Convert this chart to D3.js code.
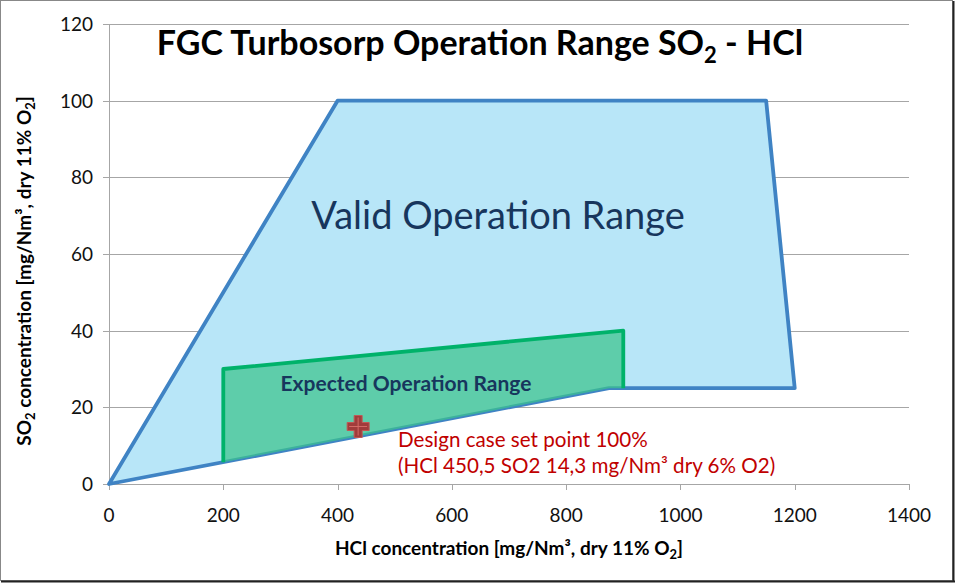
<!DOCTYPE html>
<html><head><meta charset="utf-8">
<script src="https://cdn.jsdelivr.net/npm/d3@7"></script>
<style>body{margin:0;background:#fff}svg{display:block}text{font-family:Lato,"Open Sans",sans-serif}</style>
</head><body><svg id="c" width="955" height="583"></svg>
<script>
const xTicks = [0,200,400,600,800,1000,1200,1400];
const yTicks = [0,20,40,60,80,100,120];
const validRange = [[0,0],[400,100],[1150,100],[1200,25],[875,25],[0,0]];
const expectedRange = [[200,5.7],[200,30],[900,40],[900,25],[875,25],[200,5.7]];
const expectedEdge = [[200,5.7],[200,30],[900,40],[900,25]];
const designPoint = [436,15];

const svg = d3.select("#c");
const x = d3.scaleLinear().domain([0,1400]).range([109,909]);
const y = d3.scaleLinear().domain([0,120]).range([484,24]);

// frame
svg.append("rect").attr("x",0.5).attr("y",0.5).attr("width",952).attr("height",580).attr("fill","#fff").attr("stroke","#888");
svg.append("line").attr("x1",953.5).attr("x2",953.5).attr("y1",1).attr("y2",582).attr("stroke","#222").attr("stroke-width",2);
svg.append("line").attr("x1",1).attr("x2",955).attr("y1",581.5).attr("y2",581.5).attr("stroke","#222").attr("stroke-width",2);

// grid
svg.append("g").selectAll("line").data(yTicks).join("line")
  .attr("x1",103).attr("x2",909).attr("y1",d=>Math.round(y(d))+0.5).attr("y2",d=>Math.round(y(d))+0.5)
  .attr("stroke","#a6a6a6").attr("stroke-width",1);
svg.append("line").attr("x1",109.5).attr("x2",109.5).attr("y1",y(120)).attr("y2",y(0)).attr("stroke","#a6a6a6");
svg.append("g").selectAll("line").data(xTicks).join("line")
  .attr("x1",d=>Math.round(x(d))+0.5).attr("x2",d=>Math.round(x(d))+0.5).attr("y1",y(0)).attr("y2",y(0)+6)
  .attr("stroke","#a6a6a6");

// tick labels
svg.append("g").selectAll("text").data(yTicks).join("text")
  .attr("x",93).attr("y",d=>y(d)+7).attr("text-anchor","end").attr("font-size",19).attr("fill","#111").text(d=>d);
svg.append("g").selectAll("text").data(xTicks).join("text")
  .attr("x",d=>x(d)).attr("y",522).attr("text-anchor","middle").attr("font-size",19).attr("fill","#111").text(d=>d);

const line = d3.line().x(d=>x(d[0])).y(d=>y(d[1]));
svg.append("path").attr("d",line(validRange)+"Z").attr("fill","#b8e6f8").attr("stroke","#3f83c4").attr("stroke-width",3.8).attr("stroke-linejoin","round");
svg.append("path").attr("d",line(expectedRange)+"Z").attr("fill","#3cc38c").attr("fill-opacity",0.72).attr("stroke","none");
svg.append("path").attr("d",line(expectedEdge)).attr("fill","none").attr("stroke","#00b26a").attr("stroke-width",3.8).attr("stroke-linejoin","round");

// design marker (plus)
const px = x(designPoint[0]), py = y(designPoint[1]);
const a=4, b=11;
const plus = `M${px-a},${py-b}H${px+a}V${py-a}H${px+b}V${py+a}H${px+a}V${py+b}H${px-a}V${py+a}H${px-b}V${py-a}H${px-a}Z`;
svg.append("path").attr("d",plus).attr("fill","#a13c3b").attr("stroke","#c25755").attr("stroke-width",1);
svg.append("path").attr("d",`M${px-b+2},${py}H${px+b-2}M${px},${py-b+2}V${py+b-2}`).attr("stroke","#d46a66").attr("stroke-width",1);

// texts
svg.append("text").attr("x",480).attr("y",55).attr("text-anchor","middle").attr("font-size",34).attr("font-weight","bold").attr("fill","#000")
  .html('FGC Turbosorp Operation Range SO<tspan font-size="22" dy="8">2</tspan><tspan dy="-8"> - HCl</tspan>');
svg.append("text").attr("x",498).attr("y",229).attr("text-anchor","middle").attr("font-size",38).attr("fill","#17365d").text("Valid Operation Range");
svg.append("text").attr("x",406).attr("y",391).attr("text-anchor","middle").attr("font-size",21).attr("font-weight","bold").attr("fill","#17365d").text("Expected Operation Range");
svg.append("text").attr("x",398).attr("y",447).attr("font-size",20.6).attr("fill","#c00000").text("Design case set point 100%");
svg.append("text").attr("x",398).attr("y",473).attr("font-size",20.6).attr("fill","#c00000").text("(HCl 450,5 SO2 14,3 mg/Nm³ dry 6% O2)");

svg.append("text").attr("x",509).attr("y",555).attr("text-anchor","middle").attr("font-size",19).attr("font-weight","bold").attr("fill","#000")
  .html('HCl concentration [mg/Nm³, dry 11% O<tspan font-size="13" dy="4">2</tspan><tspan dy="-4">]</tspan>');
svg.append("text").attr("transform","translate(31,271) rotate(-90)").attr("text-anchor","middle").attr("font-size",19).attr("font-weight","bold").attr("fill","#000")
  .html('SO<tspan font-size="13" dy="4">2</tspan><tspan dy="-4"> concentration [mg/Nm³, dry 11% O</tspan><tspan font-size="13" dy="4">2</tspan><tspan dy="-4">]</tspan>');
</script></body></html>
